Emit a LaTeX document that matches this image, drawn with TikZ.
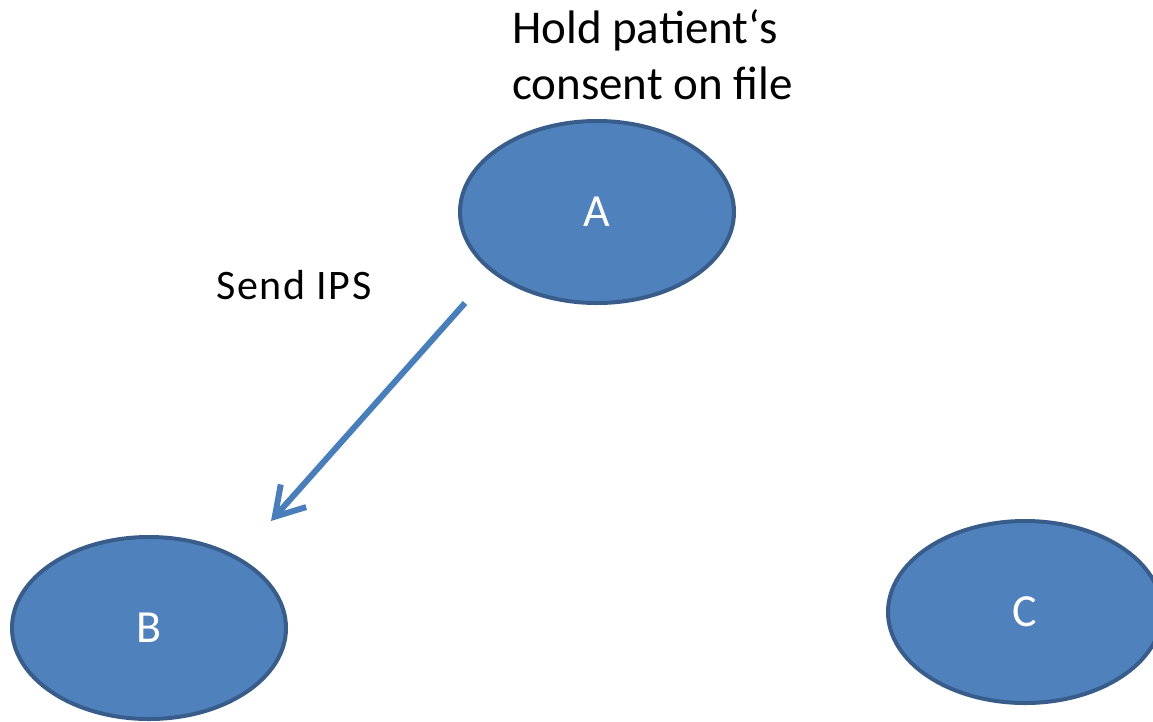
\documentclass[tikz,border=0pt]{standalone}
\usepackage{fontspec}
\setmainfont{Carlito}
\usetikzlibrary{arrows.meta,shapes.geometric}
\definecolor{ofill}{HTML}{4F81BD}
\definecolor{oline}{HTML}{385D8A}
\definecolor{arrowc}{HTML}{4A7EBB}
\tikzset{
  party/.style={ellipse, fill=ofill, draw=oline, line width=4pt,
    minimum width=274pt, minimum height=182pt, inner sep=0pt,
    text=white, font=\fontsize{46}{55}\selectfont},
  lbl/.style={text=black, inner sep=0pt},
  flow/.style={draw=arrowc, line width=6pt,
    -{Straight Barb[length=28pt,width=34pt,line width=6pt]}}
}
\begin{document}
\begin{tikzpicture}[x=1pt,y=-1pt]
\useasboundingbox (0,0) rectangle (1153,721);
\node[party] (A) at (597,212) {A};
\node[party] (B) at (149,628) {B};
\node[party] (C) at (1025,612) {C};
\node[lbl, anchor=base west, align=left, font=\fontsize{47}{56}\selectfont] (consent) at (512,99) {Hold patient‘s\\consent on file};
\node[lbl, anchor=base west, font=\fontsize{42}{50}\selectfont\addfontfeature{LetterSpace=4}] (send) at (216,299) {Send IPS};
\coordinate (s) at (465,303);
\coordinate (t) at (271,521);
\draw[flow] (s) -- (t);
\end{tikzpicture}
\end{document}
